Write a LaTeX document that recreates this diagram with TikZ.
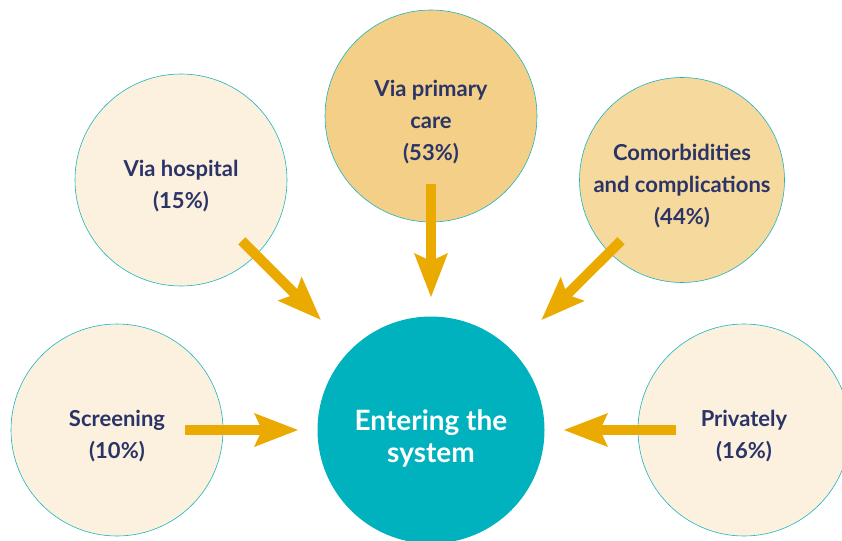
\documentclass[tikz,border=0pt]{standalone}
\usepackage{fontspec}
\setmainfont{Lato}
\usetikzlibrary{arrows.meta}
\definecolor{ringc}{HTML}{1BB5BD}
\definecolor{creamc}{HTML}{FCF0DE}
\definecolor{goldc}{HTML}{F3CF87}
\definecolor{sandc}{HTML}{F6D99C}
\definecolor{hubc}{HTML}{00B2BD}
\definecolor{arrowc}{HTML}{EAAA00}
\definecolor{navyc}{HTML}{2B3467}
\begin{document}
\begin{tikzpicture}[x=1pt,y=-1pt,
  bubble/.style={circle, draw=ringc, line width=0.6pt, minimum size=212pt, inner sep=0pt},
  bubbletext/.style={align=center, text=navyc, yshift=-6pt,
    font=\bfseries\fontsize{22}{32}\selectfont},
  hubnode/.style={circle, fill=hubc, minimum size=227pt, inner sep=0pt},
  hubtext/.style={align=center, text=white, yshift=-8pt,
    font=\bfseries\fontsize{28}{32}\selectfont},
  flow/.style={draw=arrowc, line width=10pt,
    -{Stealth[length=44pt,width=34pt,inset=8pt,line width=0pt]}},
  straightflow/.style={flow, shorten <=68pt, shorten >=133pt},
  diagflow/.style={flow, shorten <=86pt, shorten >=156pt}]
\useasboundingbox (0,0) rectangle (842,540);
\node[bubble, fill=creamc, label={[bubbletext, name=hospt]center:Via hospital\\(15\%)}] (hosp) at (181,180) {};
\node[bubble, fill=goldc, label={[bubbletext, name=primt]center:Via primary\\care\\(53\%)}] (prim) at (431,116) {};
\node[bubble, fill=sandc, minimum size=205pt, label={[bubbletext, name=comort]center:Comorbidities\\and complications\\(44\%)}] (comor) at (682,180) {};
\node[bubble, fill=creamc, label={[bubbletext, name=screent]center:Screening\\(10\%)}] (screen) at (117,430) {};
\node[bubble, fill=creamc, label={[bubbletext, name=privt]center:Privately\\(16\%)}] (priv) at (744,430) {};
\node[hubnode, label={[hubtext, name=hubt]center:Entering the\\system}] (hub) at (431,430) {};
\draw[diagflow] (hosp.center) -- (hub.center);
\draw[diagflow] (comor.center) -- (hub.center);
\draw[straightflow] (prim.center) -- (hub.center);
\draw[straightflow] (screen.center) -- (hub.center);
\draw[straightflow] (priv.center) -- (hub.center);
\end{tikzpicture}
\end{document}
